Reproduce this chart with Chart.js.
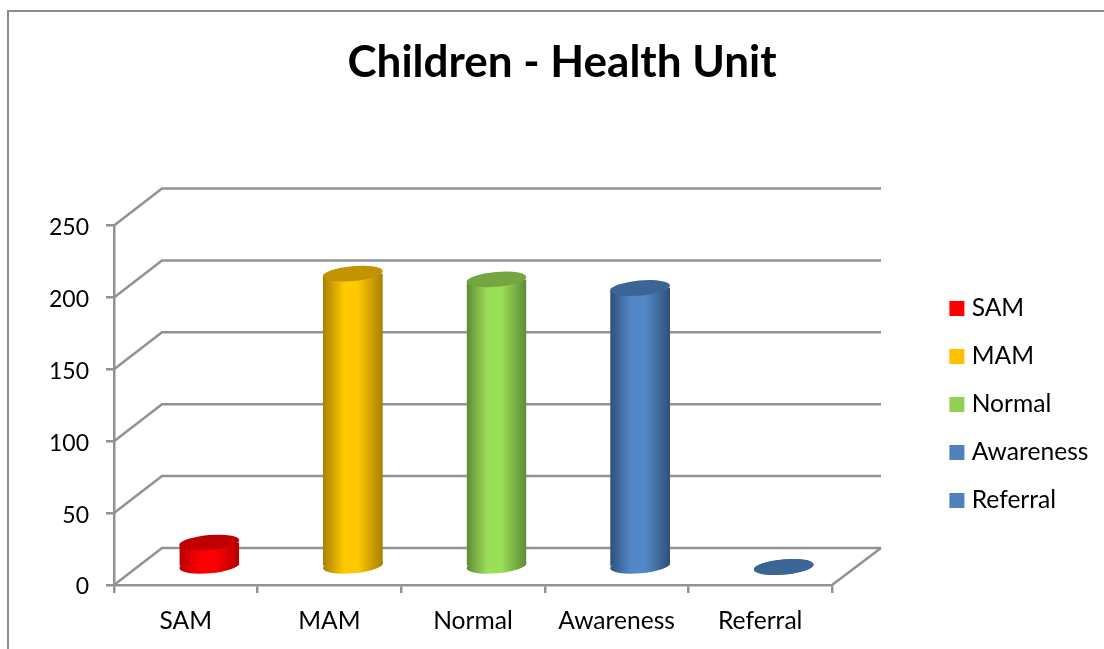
<!DOCTYPE html>
<html>
<head>
<meta charset="utf-8">
<script src="https://cdn.jsdelivr.net/npm/chart.js@4"></script>
<style>
html,body{margin:0;padding:0;background:#fff;overflow:hidden}
#frame{position:absolute;left:7px;top:10px;width:1097px;height:639px;border-left:2px solid #8c8c8c;border-top:2px solid #8c8c8c;box-sizing:border-box}
#wrap{position:absolute;left:0;top:0;width:1104px;height:649px}
</style>
</head>
<body>
<div id="frame"></div>
<div id="wrap"><canvas id="c" width="1104" height="649"></canvas></div>
<script>
const titleText = "Children - Health Unit";
const categories = ["SAM", "MAM", "Normal", "Awareness", "Referral"];
const values = [17, 204, 200, 194, 0];
const legendColors = ["#FF0000", "#FFC000", "#92D050", "#4F81BD", "#4F81BD"];
const centerColors = ["#FF0000", "#FFC800", "#9ADF58", "#5388C8", "#5388C8"];
const edgeColors = ["#B80000", "#A98000", "#5F8A35", "#2F5078", "#2F5078"];
const topColors = ["#C00000", "#C49400", "#76A63F", "#3A6596", "#3A6596"];
const yTicks = [0, 50, 100, 150, 200, 250];
const grey = "#929292";
const fontFamily = "Lato, 'Open Sans', sans-serif";

const wallDepth = {x: 48, y: 37};
const barShift = {x: 23.5, y: 18};
const capRy = 7.5;
const capTilt = -5 * Math.PI / 180;

function sideGradient(chart, i) {
  const cx = chart.scales.x.getPixelForValue(i);
  const g = chart.ctx.createLinearGradient(cx - 30, 0, cx + 30, 0);
  g.addColorStop(0, edgeColors[i]);
  g.addColorStop(0.35, centerColors[i]);
  g.addColorStop(0.58, centerColors[i]);
  g.addColorStop(1, edgeColors[i]);
  return g;
}

function cap(ctx, x, y, w, fill) {
  ctx.fillStyle = fill;
  ctx.beginPath();
  ctx.ellipse(x, y, w / 2, capRy, capTilt, 0, Math.PI * 2);
  ctx.fill();
}

const walls = {
  id: "walls",
  beforeDatasetsDraw(chart) {
    const {ctx, chartArea: a, scales: {y}} = chart;
    ctx.save();
    ctx.strokeStyle = grey;
    ctx.lineWidth = 2.5;
    ctx.beginPath();
    yTicks.forEach(v => {
      const p = y.getPixelForValue(v);
      ctx.moveTo(a.left, p);
      ctx.lineTo(a.left + wallDepth.x, p - wallDepth.y);
      ctx.lineTo(a.right + wallDepth.x + 1, p - wallDepth.y);
    });
    ctx.moveTo(a.right, a.bottom);
    ctx.lineTo(a.right + wallDepth.x + 1, a.bottom - wallDepth.y);
    ctx.stroke();
    ctx.restore();
  }
};

const cylinders = {
  id: "cylinders",
  beforeDatasetDraw(chart, args) {
    const ctx = chart.ctx;
    ctx.save();
    ctx.translate(barShift.x, -barShift.y);
    args.meta.data.forEach((el, i) => {
      cap(ctx, el.x, el.base, el.width, values[i] > 0 ? sideGradient(chart, i) : topColors[i]);
    });
    ctx.save();
    ctx.beginPath();
    args.meta.data.forEach(el => {
      const rx = el.width / 2;
      ctx.moveTo(el.x + rx * Math.cos(capTilt), el.base + rx * Math.sin(capTilt));
      ctx.ellipse(el.x, el.base, rx, capRy, capTilt, 0, Math.PI);
      ctx.ellipse(el.x, el.y, rx, capRy, capTilt, Math.PI, Math.PI * 2);
      ctx.closePath();
    });
    ctx.clip();
  },
  afterDatasetDraw(chart, args) {
    const ctx = chart.ctx;
    ctx.restore();
    args.meta.data.forEach((el, i) => {
      cap(ctx, el.x, el.y, el.width, topColors[i]);
    });
    ctx.restore();
  }
};

const placement = {
  id: "placement",
  beforeLayout(chart) {
    const lg = chart.legend;
    if (lg && !lg._wrapped) {
      const fit = lg.fit;
      lg.fit = function () { fit.call(this); this.width = 272; };
      lg._wrapped = true;
    }
  },
  afterLayout(chart) {
    const t = chart.titleBlock, lg = chart.legend;
    if (t) { t.left = 20; t.right = 1104; }
    if (lg) { lg.left = 931; lg.right = 1104; lg.top = 154.5; lg.bottom = 654.5; }
  }
};

new Chart(document.getElementById("c"), {
  type: "bar",
  data: {
    labels: categories,
    datasets: [{
      label: titleText,
      data: values,
      clip: false,
      borderWidth: 0,
      barPercentage: 60 / 143.6,
      categoryPercentage: 1,
      backgroundColor(c) {
        return c.dataIndex === undefined ? legendColors[0] : sideGradient(c.chart, c.dataIndex);
      }
    }]
  },
  options: {
    responsive: false,
    animation: false,
    layout: {padding: 0},
    plugins: {
      tooltip: {enabled: false},
      title: {
        display: true,
        text: titleText,
        color: "#000",
        font: {family: fontFamily, size: 44, weight: "bold", lineHeight: 1.2},
        padding: {top: 36, bottom: 136.7}
      },
      legend: {
        position: "right",
        onClick: null,
        labels: {
          boxWidth: 5,
          boxHeight: 5,
          padding: 23.4,
          color: "#000",
          font: {family: fontFamily, size: 24.6},
          generateLabels: () => categories.map((name, i) => ({
            text: name,
            fillStyle: legendColors[i],
            strokeStyle: legendColors[i],
            lineWidth: 10,
            lineJoin: "miter",
            hidden: false,
            index: i
          }))
        }
      }
    },
    scales: {
      x: {
        afterFit(s) { s.height = 64; },
        grid: {drawOnChartArea: false, color: grey, lineWidth: 2.5, tickLength: 8},
        border: {display: true, color: grey, width: 2.5},
        ticks: {color: "#000", padding: 13, font: {family: fontFamily, size: 24.6}}
      },
      y: {
        min: 0,
        max: 250,
        afterFit(s) { s.width = 114; },
        afterBuildTicks(s) { s.ticks = yTicks.map(v => ({value: v})); },
        grid: {drawOnChartArea: false, color: grey, lineWidth: 2.5, tickLength: 8},
        border: {display: true, color: grey, width: 2.5},
        ticks: {color: "#000", padding: 17, labelOffset: 2, font: {family: fontFamily, size: 23}}
      }
    }
  },
  plugins: [walls, cylinders, placement]
});
</script>
</body>
</html>
